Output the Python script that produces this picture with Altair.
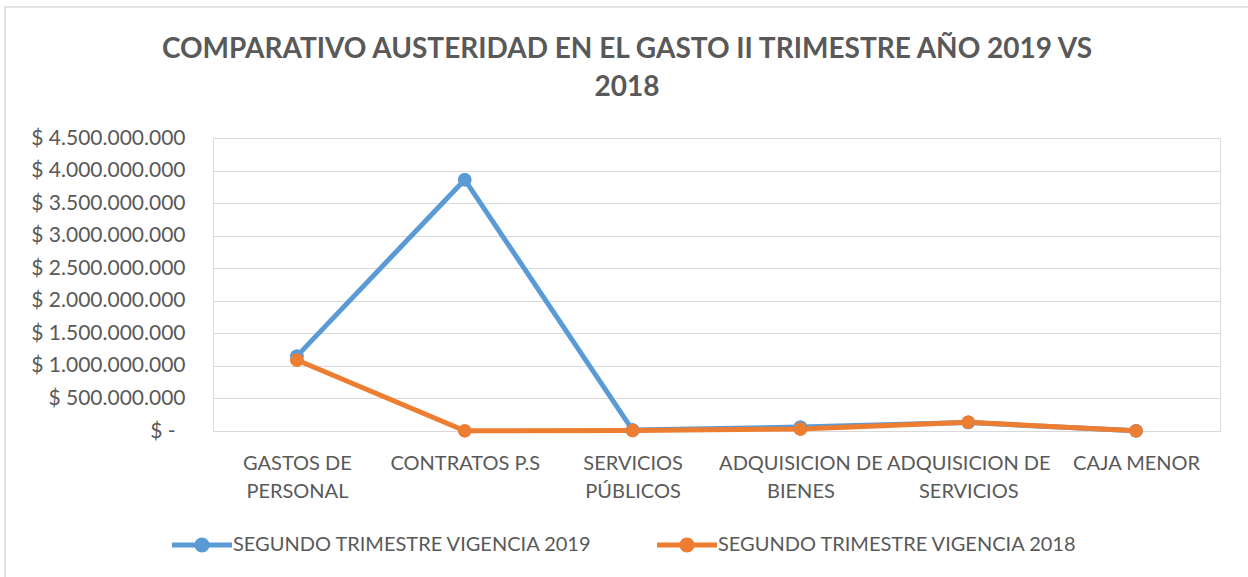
import altair as alt
import pandas as pd

categories = ["GASTOS DE PERSONAL", "CONTRATOS P.S", "SERVICIOS PÚBLICOS",
              "ADQUISICION DE BIENES", "ADQUISICION DE SERVICIOS", "CAJA MENOR"]
label_lines = [["GASTOS DE", "PERSONAL"], ["CONTRATOS P.S"], ["SERVICIOS", "PÚBLICOS"],
               ["ADQUISICION DE", "BIENES"], ["ADQUISICION DE", "SERVICIOS"], ["CAJA MENOR"]]
series = ["SEGUNDO TRIMESTRE VIGENCIA 2019", "SEGUNDO TRIMESTRE VIGENCIA 2018"]
values_2019 = [1150000000, 3860000000, 15000000, 60000000, 130000000, 2000000]
values_2018 = [1090000000, 2000000, 8000000, 30000000, 135000000, 2000000]
y_ticks = [0, 500000000, 1000000000, 1500000000, 2000000000, 2500000000,
           3000000000, 3500000000, 4000000000, 4500000000]
title_lines = ["COMPARATIVO AUSTERIDAD EN EL GASTO II TRIMESTRE AÑO 2019 VS", "2018"]
colors = ["#5B9BD5", "#ED7D31"]

rows = []
for s, vals in zip(series, [values_2019, values_2018]):
    for c, v in zip(categories, vals):
        rows.append({"cat": c, "serie": s, "valor": v})
df = pd.DataFrame(rows)

FONT = "Lato"
TXT = "#595959"
FS = 20

label_map = "{" + ",".join(
    "'%s': [%s]" % (c, ",".join("'%s'" % l for l in ls)) for c, ls in zip(categories, label_lines)
) + "}"

legend_path = ("M-1,-0.08H1V0.08H-1Z "
               "M-0.25,0A0.25,0.25 0 1,1 0.25,0A0.25,0.25 0 1,1 -0.25,0Z")

x_enc = alt.X("cat:N", sort=categories, scale=alt.Scale(type="point", padding=0.5),
              axis=alt.Axis(title=None, labelAngle=0, labelFont=FONT, labelFontSize=FS,
                            labelColor=TXT, labelPadding=22, labelLimit=300,
                            labelLineHeight=28, domain=False, ticks=False, grid=False,
                            labelExpr=label_map + "[datum.value]"))
y_enc = alt.Y("valor:Q", scale=alt.Scale(domain=[0, 4500000000], nice=False),
              axis=alt.Axis(title=None, values=y_ticks, labelFont=FONT, labelFontSize=21,
                            labelColor=TXT,
                            labelPadding={"condition": {"test": "datum.value == 0", "value": 38},
                                          "value": 28},
                            domain=False, ticks=False,
                            gridColor="#D9D9D9", gridWidth=1,
                            labelExpr="datum.value == 0 ? '$ -' : '$ ' + replace(format(datum.value, ',.0f'), regexp(',', 'g'), '.')"))
color_scale = alt.Scale(domain=series, range=colors)

lines = alt.Chart(df).mark_line(strokeWidth=5).encode(
    x=x_enc, y=y_enc,
    color=alt.Color("serie:N", sort=series, scale=color_scale,
                    legend=alt.Legend(title=None, orient="none", legendX=-41, legendY=377,
                                      direction="horizontal", symbolType=legend_path,
                                      symbolSize=3600, symbolStrokeWidth=0,
                                      labelFont=FONT, labelFontSize=FS, labelColor=TXT,
                                      labelOffset=1, columnPadding=64, labelLimit=500)),
    order=alt.Order("serie:N", sort="descending"),
)
points = alt.Chart(df).mark_circle(size=180, opacity=1).encode(
    x=x_enc, y=y_enc,
    color=alt.Color("serie:N", sort=series, scale=color_scale),
    order=alt.Order("serie:N", sort="descending"),
)

border = alt.Chart(pd.DataFrame({"a": [0]})).mark_rect(
    fill=None, stroke="#D9D9D9", strokeWidth=1.5
).encode(x=alt.value(-208), x2=alt.value(1060), y=alt.value(-131), y2=alt.value(460))

title = alt.Chart(pd.DataFrame({"a": [0]})).mark_text(
    text=title_lines, font=FONT, fontSize=28, fontWeight="bold", color=TXT,
    lineHeight=38, align="center", baseline="middle"
).encode(x=alt.value(414), y=alt.value(-88))

chart = alt.layer(border, title, points, lines, points).properties(
    width=1007, height=293,
    padding={"left": 213, "top": 138, "right": 28, "bottom": 146},
    autosize=alt.AutoSizeParams(type="none"),
).configure_view(stroke=None).configure(background="white")

chart.save("out.html", embed_options={"renderer": "svg", "actions": False})
